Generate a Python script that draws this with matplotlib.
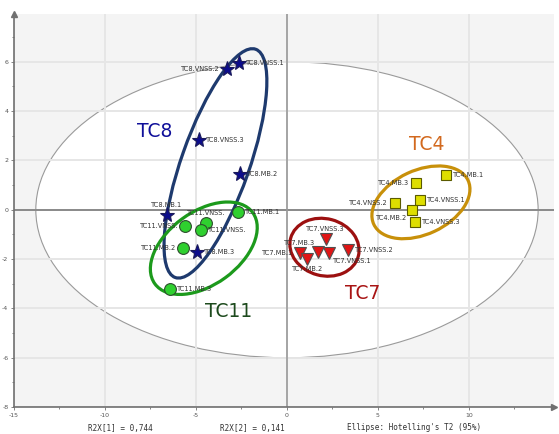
import numpy as np
import matplotlib.pyplot as plt
from matplotlib.patches import Ellipse
from matplotlib.transforms import ScaledTranslation

plt.rcParams['axes.unicode_minus'] = False

# scores (t[1], t[2])
tc8_names = ["TC8.VNSS.1", "TC8.VNSS.2", "TC8.VNSS.3", "TC8.MB.2", "TC8.MB.1", "TC8.MB.3"]
tc8_x = [-2.64, -3.30, -4.84, -2.58, -6.60, -4.95]
tc8_y = [5.95, 5.70, 2.83, 1.46, -0.20, -1.70]

tc11_names = ["TC11.MB.1", "TC11.VNSS.", "TC11.VNSS.", "TC11.VNSS.", "TC11.MB.2", "TC11.MB.3"]
tc11_x = [-2.69, -4.45, -5.60, -4.73, -5.71, -6.43]
tc11_y = [-0.08, -0.53, -0.65, -0.81, -1.54, -3.20]

tc7_names = ["TC7.VNSS.3", "TC7.MB.3", "TC7.VNSS.1", "TC7.VNSS.2", "TC7.MB.1", "TC7.MB.2"]
tc7_x = [2.12, 1.70, 2.29, 3.37, 0.73, 1.12]
tc7_y = [-1.18, -1.70, -1.74, -1.62, -1.77, -2.01]

tc4_names = ["TC4.MB.1", "TC4.MB.3", "TC4.VNSS.1", "TC4.VNSS.2", "TC4.MB.2", "TC4.VNSS.3"]
tc4_x = [8.75, 7.09, 7.29, 5.93, 6.85, 7.03]
tc4_y = [1.39, 1.07, 0.40, 0.28, 0.01, -0.51]

x_ticks = [-15, -10, -5, 0, 5, 10]
y_ticks = [-8, -6, -4, -2, 0, 2, 4, 6]
r2x_1 = "0,744"
r2x_2 = "0,141"

# where each label sits around its marker
label_side = {
    'r': ((5, 0), 'left', 'center'),
    'l': ((-5, 0), 'right', 'center'),
    't': ((0, 5), 'center', 'bottom'),
    'b': ((0, -5), 'center', 'top'),
    'tl': ((-2, 4), 'right', 'bottom'),
    'br': ((3, -4), 'left', 'top'),
    'bl': ((-3, -4), 'right', 'top'),
}
tc8_sides = ['r', 'l', 'r', 'r', 't', 'r']
tc11_sides = ['r', 't', 'l', 'r', 'l', 'r']
tc7_sides = ['t', 'tl', 'br', 'r', 'l', 'b']
tc4_sides = ['r', 'l', 'r', 'l', 'bl', 'r']

fig = plt.figure(figsize=(5.59, 4.34), dpi=100)
ax = fig.add_axes([0.025, 0.062, 0.966, 0.906])
ax.set_facecolor('#f4f4f4')
ax.set_xlim(-15, 14.67)
ax.set_ylim(-8, 7.94)

# Hotelling's T2 ellipse
ax.add_patch(Ellipse((0, 0), 27.6, 12.0, facecolor='white', edgecolor='#9a9a9a',
                     lw=0.8, zorder=0.6))

ax.set_xticks(x_ticks)
ax.set_yticks(y_ticks)
ax.set_xticks(np.arange(-15, 15, 2.5), minor=True)
ax.set_yticks(np.arange(-8, 8, 1), minor=True)
ax.grid(True, which='major', color='#e6e6e6', lw=1.4)
ax.set_axisbelow('line')
ax.axhline(0, color='#7a7a7a', lw=1.2, zorder=1.8)
ax.axvline(0, color='#9a9a9a', lw=1.2, zorder=1.8)

for s in ['top', 'right']:
    ax.spines[s].set_visible(False)
for s in ['left', 'bottom']:
    ax.spines[s].set_color('#707070')
    ax.spines[s].set_linewidth(1.2)
ax.plot(0, 1, '^', color='#707070', ms=4, transform=ax.transAxes, clip_on=False)
ax.plot(1, 0, '>', color='#707070', ms=4, transform=ax.transAxes, clip_on=False)
ax.tick_params(which='both', direction='out', color='#707070', labelsize=4.5,
               labelcolor='#555555', length=2.5, width=0.6, pad=1.5)
ax.tick_params(which='minor', length=1.5)

# group rings: size in inches, angle on screen
rings = [
    ((-3.93, 1.88), 2.42, 0.68, 70.6, '#1e3a6e'),
    ((-4.57, -1.56), 1.21, 0.73, 36, '#1c9a1c'),
    ((2.06, -1.52), 0.70, 0.57, -15, '#9c1010'),
    ((7.36, 0.30), 1.04, 0.64, 25, '#c8900a'),
]
for (cx, cy), w, h, ang, col in rings:
    tr = fig.dpi_scale_trans + ScaledTranslation(cx, cy, ax.transData)
    ax.add_patch(Ellipse((0, 0), w, h, angle=ang, fill=False, edgecolor=col,
                         lw=2.3, transform=tr, zorder=3))

groups = [
    (tc8_x, tc8_y, tc8_names, tc8_sides, '*', 11, '#0c0c8c', '#1a1a5a'),
    (tc11_x, tc11_y, tc11_names, tc11_sides, 'o', 8.5, '#2fd02f', '#2d4d2d'),
    (tc7_x, tc7_y, tc7_names, tc7_sides, 'v', 8, '#e01515', '#505050'),
    (tc4_x, tc4_y, tc4_names, tc4_sides, 's', 7.5, '#dede00', '#5a5a00'),
]
for xs, ys, names, sides, mk, ms, fc, ec in groups:
    ax.plot(xs, ys, mk, ms=ms, mfc=fc, mec=ec, mew=0.8, ls='none', zorder=4)
    for x, y, n, sd in zip(xs, ys, names, sides):
        off, ha, va = label_side[sd]
        ax.annotate(n, (x, y), xytext=off, textcoords='offset points', ha=ha, va=va,
                    fontsize=4.8, color='#333333', zorder=5)

ax.text(-7.25, 3.16, 'TC8', color='#10109a', fontsize=13.5, ha='center', va='center')
ax.text(7.69, 2.63, 'TC4', color='#d2691e', fontsize=13.5, ha='center', va='center')
ax.text(4.18, -3.40, 'TC7', color='#a81414', fontsize=13.5, ha='center', va='center')
ax.text(-3.19, -4.13, 'TC11', color='#1d4a1d', fontsize=13.5, ha='center', va='center')

fig.text(120 / 559, 1 - 428 / 434, 'R2X[1] = ' + r2x_1, family='DejaVu Sans Mono',
         fontsize=5.5, ha='center', va='center', color='#333333')
fig.text(252 / 559, 1 - 428 / 434, 'R2X[2] = ' + r2x_2, family='DejaVu Sans Mono',
         fontsize=5.5, ha='center', va='center', color='#333333')
fig.text(414 / 559, 1 - 428 / 434, "Ellipse: Hotelling's T2 (95%)", family='DejaVu Sans Mono',
         fontsize=5.5, ha='center', va='center', color='#333333')

fig.savefig('out.png', dpi=100)
